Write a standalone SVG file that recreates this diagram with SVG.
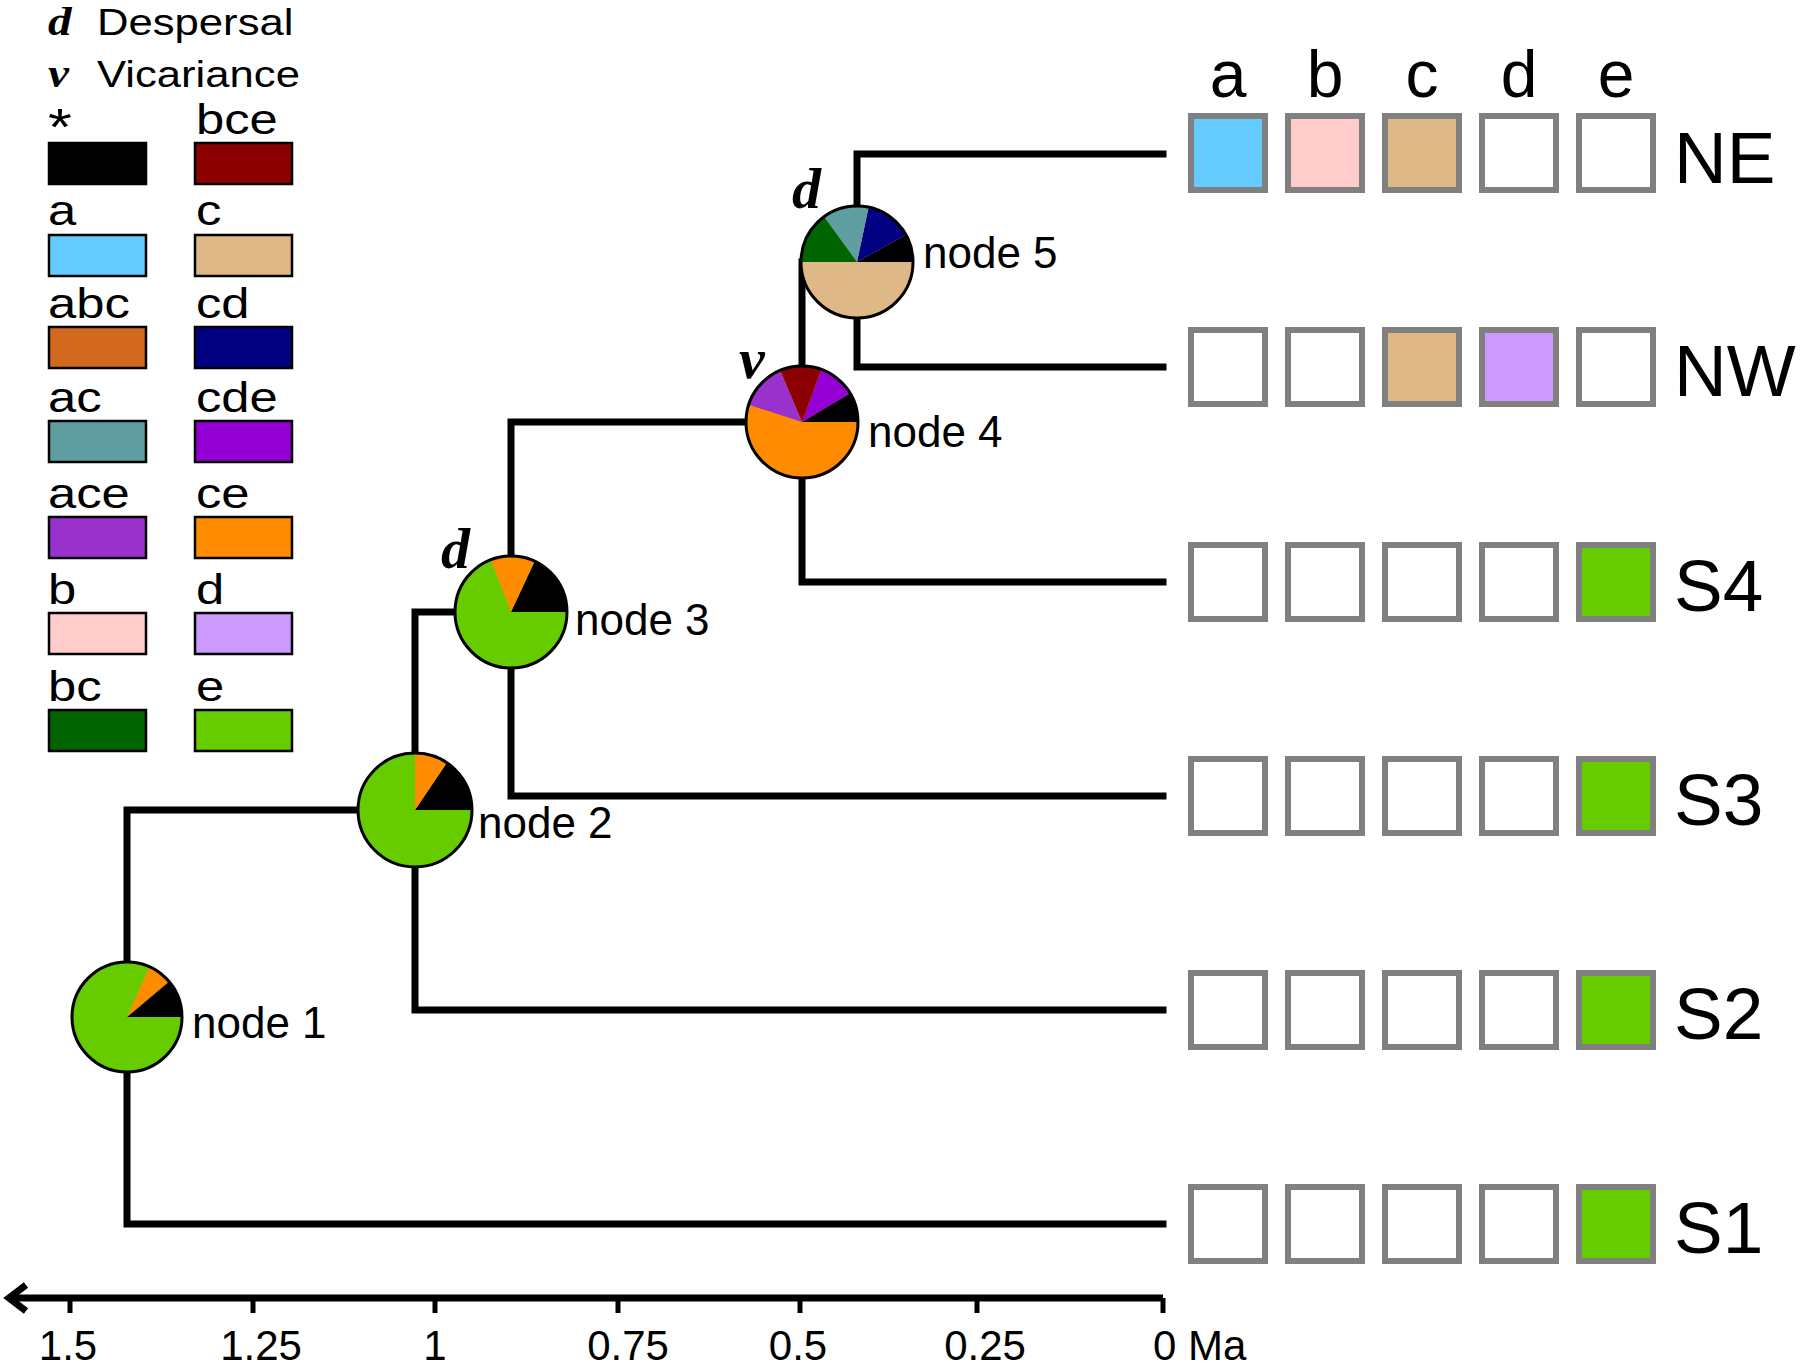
<svg xmlns="http://www.w3.org/2000/svg" width="1800" height="1368" viewBox="0 0 1800 1368">
<style>
.sans{font-family:"Liberation Sans",Arial,sans-serif;fill:#000}
.ev{font-family:"Liberation Serif","Times New Roman",serif;font-style:italic;font-weight:bold;fill:#000}
.br{fill:none;stroke:#000;stroke-width:7;stroke-linecap:square;stroke-linejoin:miter}
.lg{stroke:#000;stroke-width:2.5}
.bx{stroke:#808080;stroke-width:6}
.pie{fill:none;stroke:#000;stroke-width:3}
.nl{font-size:44px}
.tick{stroke:#000;stroke-width:5}
.ax{font-size:42px}
.rl{font-size:73px}
.ch{font-size:66px;text-anchor:middle}
</style>
<rect width="1800" height="1368" fill="#fff"/>

<g id="legend">
  <g transform="translate(48,0) scale(1.18,1)">
    <text class="ev" x="0" y="35" font-size="40">d</text>
    <text class="sans" x="41.5" y="35" font-size="37">Despersal</text>
    <text class="ev" x="0" y="87" font-size="40">v</text>
    <text class="sans" x="41.5" y="87" font-size="37">Vicariance</text>
    <g class="sans" font-size="43">
      <text x="0" y="145" font-size="52">*</text><text x="125.4" y="134">bce</text>
      <text x="0" y="225">a</text><text x="125.4" y="225">c</text>
      <text x="0" y="318">abc</text><text x="125.4" y="318">cd</text>
      <text x="0" y="412">ac</text><text x="125.4" y="412">cde</text>
      <text x="0" y="508">ace</text><text x="125.4" y="508">ce</text>
      <text x="0" y="604">b</text><text x="125.4" y="604">d</text>
      <text x="0" y="701">bc</text><text x="125.4" y="701">e</text>
    </g>
  </g>
  <g class="lg">
    <rect x="49" y="143" width="97" height="41" fill="#000000"/>
    <rect x="195" y="143" width="97" height="41" fill="#8B0000"/>
    <rect x="49" y="235" width="97" height="41" fill="#66CCFF"/>
    <rect x="195" y="235" width="97" height="41" fill="#DEB887"/>
    <rect x="49" y="327" width="97" height="41" fill="#D2691E"/>
    <rect x="195" y="327" width="97" height="41" fill="#000080"/>
    <rect x="49" y="421" width="97" height="41" fill="#5F9EA0"/>
    <rect x="195" y="421" width="97" height="41" fill="#9400D3"/>
    <rect x="49" y="517" width="97" height="41" fill="#9932CC"/>
    <rect x="195" y="517" width="97" height="41" fill="#FF8C00"/>
    <rect x="49" y="613" width="97" height="41" fill="#FFCCCC"/>
    <rect x="195" y="613" width="97" height="41" fill="#CC99FF"/>
    <rect x="49" y="710" width="97" height="41" fill="#006400"/>
    <rect x="195" y="710" width="97" height="41" fill="#66CC00"/>
  </g>
</g>

<g id="connectors">
  <path class="br" d="M415,810 H127 V1224 H1163"/>
  <path class="br" d="M511,612 H415 V1010 H1163"/>
  <path class="br" d="M802,422 H511 V796 H1163"/>
  <path class="br" d="M857,262 H802 V582 H1163"/>
  <path class="br" d="M1163,154 H857 V367 H1163"/>
</g>

<g id="node1">
  <circle cx="127" cy="1017" r="55" fill="#66CC00"/>
  <path d="M127,1017 L182,1017 A55,55 0 0 0 169.1,981.6 Z" fill="#000"/>
  <path d="M127,1017 L169.1,981.6 A55,55 0 0 0 149.4,966.8 Z" fill="#FF8C00"/>
  <circle class="pie" cx="127" cy="1017" r="55"/>
  <text class="sans nl" x="192" y="1038">node 1</text>
</g>

<g id="node2">
  <circle cx="415" cy="810" r="57" fill="#66CC00"/>
  <path d="M415,810 L472,810 A57,57 0 0 0 446.9,762.7 Z" fill="#000"/>
  <path d="M415,810 L446.9,762.7 A57,57 0 0 0 415,753 Z" fill="#FF8C00"/>
  <circle class="pie" cx="415" cy="810" r="57"/>
  <text class="sans nl" x="478" y="838">node 2</text>
</g>

<g id="node3">
  <circle cx="511" cy="612" r="56" fill="#66CC00"/>
  <path d="M511,612 L567,612 A56,56 0 0 0 534.7,561.2 Z" fill="#000"/>
  <path d="M511,612 L534.7,561.2 A56,56 0 0 0 490.9,559.7 Z" fill="#FF8C00"/>
  <circle class="pie" cx="511" cy="612" r="56"/>
  <text class="ev" x="441" y="568" font-size="58">d</text>
  <text class="sans nl" x="575" y="635">node 3</text>
</g>

<g id="node4">
  <circle cx="802" cy="422" r="56" fill="#FF8C00"/>
  <path d="M802,422 L858,422 A56,56 0 0 0 850,393.2 Z" fill="#000"/>
  <path d="M802,422 L850,393.2 A56,56 0 0 0 821.2,369.4 Z" fill="#9400D3"/>
  <path d="M802,422 L821.2,369.4 A56,56 0 0 0 780.1,370.5 Z" fill="#8B0000"/>
  <path d="M802,422 L780.1,370.5 A56,56 0 0 0 748.7,404.7 Z" fill="#9932CC"/>
  <circle class="pie" cx="802" cy="422" r="56"/>
  <text class="ev" x="739" y="378" font-size="58">v</text>
  <text class="sans nl" x="868" y="447">node 4</text>
</g>

<g id="node5">
  <circle cx="857" cy="262" r="56" fill="#DEB887"/>
  <path d="M857,262 L913,262 A56,56 0 0 0 906,234.8 Z" fill="#000"/>
  <path d="M857,262 L906,234.8 A56,56 0 0 0 868.6,207.2 Z" fill="#000080"/>
  <path d="M857,262 L868.6,207.2 A56,56 0 0 0 824.1,216.7 Z" fill="#5F9EA0"/>
  <path d="M857,262 L824.1,216.7 A56,56 0 0 0 801,262 Z" fill="#006400"/>
  <circle class="pie" cx="857" cy="262" r="56"/>
  <text class="ev" x="792" y="208" font-size="58">d</text>
  <text class="sans nl" x="923" y="268">node 5</text>
</g>

<g id="area-headers" class="sans">
  <text class="ch" x="1228" y="97">a</text>
  <text class="ch" x="1325" y="97">b</text>
  <text class="ch" x="1422" y="97">c</text>
  <text class="ch" x="1519" y="97">d</text>
  <text class="ch" x="1616" y="97">e</text>
</g>

<g id="taxon-NE">
  <rect class="bx" x="1191" y="116" width="74" height="74" fill="#66CCFF"/>
  <rect class="bx" x="1288" y="116" width="74" height="74" fill="#FFCCCC"/>
  <rect class="bx" x="1385" y="116" width="74" height="74" fill="#DEB887"/>
  <rect class="bx" x="1482" y="116" width="74" height="74" fill="#fff"/>
  <rect class="bx" x="1579" y="116" width="74" height="74" fill="#fff"/>
  <text class="sans rl" x="1674" y="183">NE</text>
</g>
<g id="taxon-NW">
  <rect class="bx" x="1191" y="330" width="74" height="74" fill="#fff"/>
  <rect class="bx" x="1288" y="330" width="74" height="74" fill="#fff"/>
  <rect class="bx" x="1385" y="330" width="74" height="74" fill="#DEB887"/>
  <rect class="bx" x="1482" y="330" width="74" height="74" fill="#CC99FF"/>
  <rect class="bx" x="1579" y="330" width="74" height="74" fill="#fff"/>
  <text class="sans rl" x="1674" y="396">NW</text>
</g>
<g id="taxon-S4">
  <rect class="bx" x="1191" y="545" width="74" height="74" fill="#fff"/>
  <rect class="bx" x="1288" y="545" width="74" height="74" fill="#fff"/>
  <rect class="bx" x="1385" y="545" width="74" height="74" fill="#fff"/>
  <rect class="bx" x="1482" y="545" width="74" height="74" fill="#fff"/>
  <rect class="bx" x="1579" y="545" width="74" height="74" fill="#66CC00"/>
  <text class="sans rl" x="1674" y="611">S4</text>
</g>
<g id="taxon-S3">
  <rect class="bx" x="1191" y="759" width="74" height="74" fill="#fff"/>
  <rect class="bx" x="1288" y="759" width="74" height="74" fill="#fff"/>
  <rect class="bx" x="1385" y="759" width="74" height="74" fill="#fff"/>
  <rect class="bx" x="1482" y="759" width="74" height="74" fill="#fff"/>
  <rect class="bx" x="1579" y="759" width="74" height="74" fill="#66CC00"/>
  <text class="sans rl" x="1674" y="825">S3</text>
</g>
<g id="taxon-S2">
  <rect class="bx" x="1191" y="973" width="74" height="74" fill="#fff"/>
  <rect class="bx" x="1288" y="973" width="74" height="74" fill="#fff"/>
  <rect class="bx" x="1385" y="973" width="74" height="74" fill="#fff"/>
  <rect class="bx" x="1482" y="973" width="74" height="74" fill="#fff"/>
  <rect class="bx" x="1579" y="973" width="74" height="74" fill="#66CC00"/>
  <text class="sans rl" x="1674" y="1039">S2</text>
</g>
<g id="taxon-S1">
  <rect class="bx" x="1191" y="1187" width="74" height="74" fill="#fff"/>
  <rect class="bx" x="1288" y="1187" width="74" height="74" fill="#fff"/>
  <rect class="bx" x="1385" y="1187" width="74" height="74" fill="#fff"/>
  <rect class="bx" x="1482" y="1187" width="74" height="74" fill="#fff"/>
  <rect class="bx" x="1579" y="1187" width="74" height="74" fill="#66CC00"/>
  <text class="sans rl" x="1674" y="1253">S1</text>
</g>

<g id="time-axis">
  <path d="M11,1298 H1163" stroke="#000" stroke-width="7" fill="none"/>
  <polyline points="26,1285 9,1298 26,1311" fill="none" stroke="#000" stroke-width="7" stroke-linejoin="miter"/>
  <g class="tick">
    <line x1="70" y1="1298" x2="70" y2="1313"/>
    <line x1="253" y1="1298" x2="253" y2="1313"/>
    <line x1="435" y1="1298" x2="435" y2="1313"/>
    <line x1="618" y1="1298" x2="618" y2="1313"/>
    <line x1="800" y1="1298" x2="800" y2="1313"/>
    <line x1="977" y1="1298" x2="977" y2="1313"/>
    <line x1="1163" y1="1298" x2="1163" y2="1313"/>
  </g>
  <g class="sans ax" text-anchor="middle">
    <text x="68" y="1360">1.5</text>
    <text x="261" y="1360">1.25</text>
    <text x="435" y="1360">1</text>
    <text x="628" y="1360">0.75</text>
    <text x="798" y="1360">0.5</text>
    <text x="985" y="1360">0.25</text>
  </g>
  <text class="sans ax" x="1153" y="1360">0 Ma</text>
</g>
</svg>
